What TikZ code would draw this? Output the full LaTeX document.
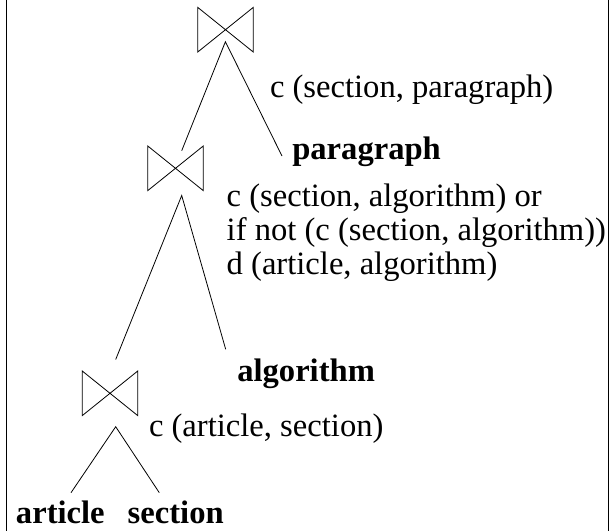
\documentclass[tikz,border=0pt]{standalone}
\usepackage{fontspec}
\setmainfont{Liberation Serif}
\begin{document}
\begin{tikzpicture}[x=1pt,y=-1pt,
  lbl/.style={anchor=base west,inner sep=0pt,outer sep=0pt,font=\fontsize{32.6}{39}\selectfont},
  rel/.style={anchor=base west,inner sep=0pt,outer sep=0pt,font=\fontsize{32.6}{39}\selectfont\bfseries},
  joinop/.style={draw=none,minimum width=55.6pt,minimum height=44.7pt,inner sep=0pt,outer sep=0pt},
  thin line/.style={line width=0.8pt},
  frameline/.style={line width=1pt}]
\useasboundingbox (0,0) rectangle (611,531);
% frame sides
\coordinate (fl1) at (6,0);
\coordinate (fl2) at (6,531);
\coordinate (fr1) at (608,0);
\coordinate (fr2) at (608,531);
\draw[frameline] (fl1) -- (fl2);
\draw[frameline] (fr1) -- (fr2);
% join operators
\node[joinop] (j1) at (225.5,29.7) {};
\node[joinop] (j2) at (175.5,168.3) {};
\node[joinop] (j3) at (110,393.3) {};
\foreach \j in {j1,j2,j3}{
  \draw[thin line] (\j.north west) -- (\j.south east) -- (\j.north east) -- (\j.south west) -- cycle;
}
% labels
\node[lbl] (c1) at (270,97.5) {c (section, paragraph)};
\node[rel] (par) at (292.3,159) {paragraph};
\node[lbl] (c2a) at (226.7,206) {c (section, algorithm) or};
\node[lbl] (c2b) at (226.7,240) {if not (c (section, algorithm))};
\node[lbl] (c2c) at (226.7,274) {d (article, algorithm)};
\node[rel] (alg) at (237.3,381.5) {algorithm};
\node[lbl] (c3) at (149,436.5) {c (article, section)};
\node[rel] (art) at (16,523.5) {article};
\node[rel] (sec) at (127.7,523.5) {section};
% connector ends
\coordinate (a1) at (225.4,41.7);
\coordinate (a2) at (181.7,195.5);
\coordinate (a3) at (115.7,426.7);
\coordinate (e1l) at (181.7,150.7);
\coordinate (e1r) at (282,156);
\coordinate (e2l) at (115.7,359.5);
\coordinate (e2r) at (225.7,349.3);
\coordinate (e3l) at (71,492.7);
\coordinate (e3r) at (159.3,492.7);
\draw[thin line] (e1l) -- (a1) -- (e1r);
\draw[thin line] (e2l) -- (a2) -- (e2r);
\draw[thin line] (e3l) -- (a3) -- (e3r);
\end{tikzpicture}
\end{document}
